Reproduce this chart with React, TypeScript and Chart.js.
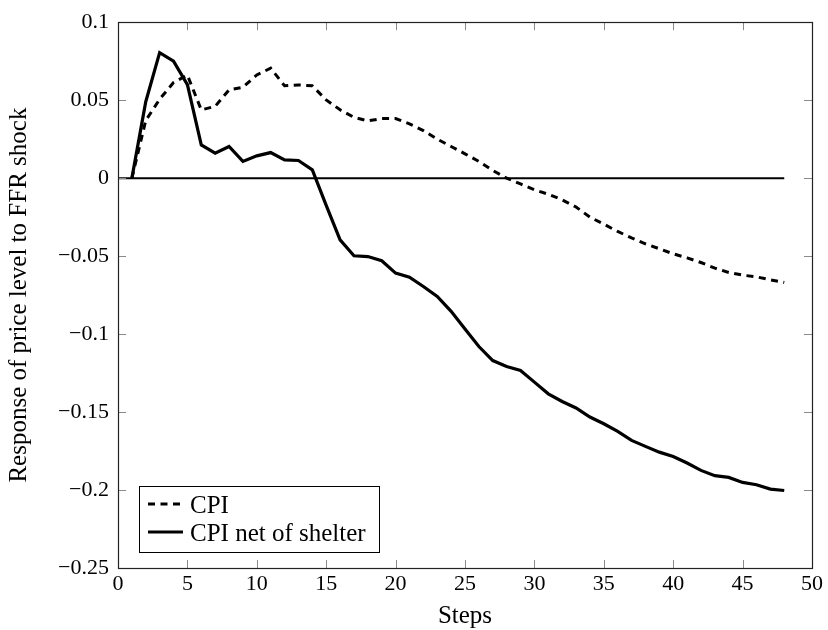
import React, { useEffect, useRef } from "react";
import { Chart, registerables } from "chart.js";

Chart.register(...registerables);

const steps = [1, 2, 3, 4, 5, 6, 7, 8, 9, 10, 11, 12, 13, 14, 15, 16, 17, 18, 19, 20, 21, 22, 23, 24, 25, 26, 27, 28, 29, 30, 31, 32, 33, 34, 35, 36, 37, 38, 39, 40, 41, 42, 43, 44, 45, 46, 47, 48];

const cpi = [0, 0.037, 0.0506, 0.0613, 0.066, 0.0438, 0.046, 0.0566, 0.0583, 0.0662, 0.0705, 0.0592, 0.0598, 0.0592, 0.0502, 0.0438, 0.039, 0.0367, 0.0382, 0.0382, 0.0348, 0.0305, 0.025, 0.0203, 0.0156, 0.0107, 0.0049, 0, -0.0037, -0.0075, -0.0103, -0.0139, -0.0185, -0.025, -0.0295, -0.0342, -0.0383, -0.0421, -0.0453, -0.0485, -0.0511, -0.0541, -0.0577, -0.0605, -0.0622, -0.0633, -0.0652, -0.0669];

const cpiNetShelter = [0, 0.049, 0.0805, 0.075, 0.06, 0.0213, 0.016, 0.0203, 0.0107, 0.0143, 0.0164, 0.0117, 0.0113, 0.0053, -0.0175, -0.0396, -0.0498, -0.0503, -0.053, -0.0609, -0.0635, -0.0695, -0.0759, -0.0854, -0.0968, -0.108, -0.117, -0.1208, -0.1233, -0.1308, -0.1383, -0.1432, -0.1474, -0.1532, -0.1575, -0.1624, -0.1682, -0.172, -0.1757, -0.1785, -0.1827, -0.1874, -0.1908, -0.1919, -0.1951, -0.1966, -0.1994, -0.2003];

const zeroSteps = [0, 48];
const zeroValues = [0, 0];

const seriesLabels = ["CPI", "CPI net of shelter"];
const xTitle = "Steps";
const yTitle = "Response of price level to FFR shock";

const FONT = "'Liberation Serif', 'Times New Roman', serif";

const frameAndTicks = {
  id: "frameAndTicks",
  afterDatasetsDraw(chart: any) {
    const { ctx, chartArea } = chart;
    const xs = chart.scales.x;
    const ys = chart.scales.y;
    const len = 8;
    ctx.save();
    ctx.strokeStyle = "#8a8a8a";
    ctx.lineWidth = 1;
    ctx.beginPath();
    xs.ticks.forEach((t: any) => {
      const px = Math.round(xs.getPixelForValue(t.value)) + 0.5;
      ctx.moveTo(px, chartArea.bottom);
      ctx.lineTo(px, chartArea.bottom - len);
      ctx.moveTo(px, chartArea.top);
      ctx.lineTo(px, chartArea.top + len);
    });
    ys.ticks.forEach((t: any) => {
      const py = Math.round(ys.getPixelForValue(t.value)) + 0.5;
      ctx.moveTo(chartArea.left, py);
      ctx.lineTo(chartArea.left + len, py);
      ctx.moveTo(chartArea.right, py);
      ctx.lineTo(chartArea.right - len, py);
    });
    ctx.stroke();
    ctx.strokeStyle = "#222";
    ctx.lineWidth = 1.2;
    ctx.strokeRect(
      Math.round(chartArea.left) + 0.5,
      Math.round(chartArea.top) + 0.5,
      Math.round(chartArea.right - chartArea.left),
      Math.round(chartArea.bottom - chartArea.top)
    );
    ctx.restore();
  },
};

const boxLegend = {
  id: "boxLegend",
  afterDraw(chart: any) {
    const { ctx, chartArea } = chart;
    const left = chartArea.left + 21;
    const boxW = 240;
    const boxH = 66;
    const top = chartArea.bottom - 16 - boxH;
    ctx.save();
    ctx.fillStyle = "#fff";
    ctx.fillRect(left, top, boxW, boxH);
    ctx.strokeStyle = "#000";
    ctx.lineWidth = 1;
    ctx.strokeRect(Math.round(left) + 0.5, Math.round(top) + 0.5, boxW, boxH);
    const rows = [0, 1];
    rows.forEach((i) => {
      const ds = chart.data.datasets[i];
      const cy = top + 18 + i * 28;
      ctx.beginPath();
      ctx.setLineDash(ds.borderDash || []);
      ctx.strokeStyle = ds.borderColor;
      ctx.lineWidth = ds.borderWidth;
      ctx.lineCap = "butt";
      ctx.moveTo(left + 9, cy);
      ctx.lineTo(left + 44, cy);
      ctx.stroke();
      ctx.setLineDash([]);
      ctx.fillStyle = "#000";
      ctx.font = `25px ${FONT}`;
      ctx.textBaseline = "alphabetic";
      ctx.textAlign = "left";
      ctx.fillText(ds.label, left + 51, cy + 8.5);
    });
    ctx.restore();
  },
};

export default function App() {
  const canvasRef = useRef<HTMLCanvasElement | null>(null);

  useEffect(() => {
    if (!canvasRef.current) return;
    const chart = new Chart(canvasRef.current, {
      type: "line",
      data: {
        datasets: [
          {
            label: seriesLabels[0],
            data: steps.map((s, i) => ({ x: s, y: cpi[i] })),
            borderColor: "#000",
            borderWidth: 3,
            borderDash: [7, 5.5],
            pointRadius: 0,
            tension: 0,
            fill: false,
          },
          {
            label: seriesLabels[1],
            data: steps.map((s, i) => ({ x: s, y: cpiNetShelter[i] })),
            borderColor: "#000",
            borderWidth: 3.2,
            pointRadius: 0,
            tension: 0,
            fill: false,
          },
          {
            label: "zero",
            data: zeroSteps.map((s, i) => ({ x: s, y: zeroValues[i] })),
            borderColor: "#000",
            borderWidth: 2,
            pointRadius: 0,
            tension: 0,
            fill: false,
          },
        ],
      },
      options: {
        animation: false,
        responsive: false,
        devicePixelRatio: 1,
        layout: { padding: { top: 22, right: 16, left: 0, bottom: 0 } },
        plugins: {
          legend: { display: false },
          tooltip: { enabled: false },
        },
        scales: {
          x: {
            type: "linear",
            min: 0,
            max: 50,
            grid: { display: false, drawTicks: false },
            border: { display: false },
            ticks: {
              stepSize: 5,
              color: "#000",
              padding: 3,
              font: { family: FONT, size: 22 },
              maxRotation: 0,
            },
            title: {
              display: true,
              text: xTitle,
              color: "#000",
              font: { family: FONT, size: 25, lineHeight: 1 },
              padding: { top: 0, bottom: 1 },
            },
            afterFit(scale: any) {
              scale.height = 62;
            },
          },
          y: {
            type: "linear",
            min: -0.25,
            max: 0.1,
            grid: { display: false, drawTicks: false },
            border: { display: false },
            ticks: {
              stepSize: 0.05,
              color: "#000",
              padding: 9,
              font: { family: FONT, size: 22 },
              callback: (v: any) => {
                const n = Math.round(Number(v) * 100) / 100;
                return String(n).replace("-", "\u2212");
              },
            },
            title: {
              display: true,
              text: yTitle,
              color: "#000",
              font: { family: FONT, size: 25, lineHeight: 1 },
              padding: { top: 7, bottom: 0 },
            },
            afterFit(scale: any) {
              scale.width = 118;
            },
          },
        },
      },
      plugins: [frameAndTicks, boxLegend],
    });
    return () => chart.destroy();
  }, []);

  return (
    <div style={{ position: "absolute", left: 0, top: 0, width: 828, height: 630, background: "#fff" }}>
      <canvas ref={canvasRef} width={828} height={630} style={{ width: 828, height: 630, display: "block" }} />
    </div>
  );
}
